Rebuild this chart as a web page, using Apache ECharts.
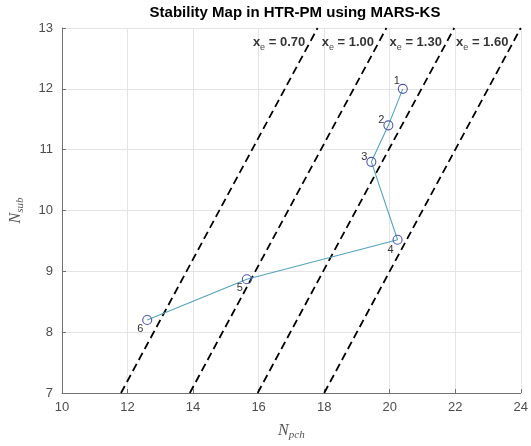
<!DOCTYPE html>
<html>
<head>
<meta charset="utf-8">
<script src="https://cdn.jsdelivr.net/npm/echarts@6/dist/echarts.min.js"></script>
<style>html,body{margin:0;padding:0;background:#fff}#c{width:531px;height:446px}</style>
</head>
<body>
<div id="c"></div>
<script>
// Operating points (N_pch, N_sub)
var pointIds = ['1', '2', '3', '4', '5', '6'];
var nPch = [20.4, 19.96, 19.44, 20.24, 15.64, 12.6];
var nSub = [12.0, 11.4, 10.8, 9.52, 8.87, 8.2];

// Constant equilibrium-quality lines
var xeValues = ['0.70', '1.00', '1.30', '1.60'];
var lineNsub = [7, 13];
var lineStartPch = [11.8, 13.9, 15.97, 18.0];    // N_pch at N_sub = 7
var lineEndPch = [17.8, 19.9, 21.97, 24.0];      // N_pch at N_sub = 13

var xTicks = [10, 12, 14, 16, 18, 20, 22, 24];
var yTicks = [7, 8, 9, 10, 11, 12, 13];

var labelY = 12.76;
// label offsets for the point numbers (style, not data)
var ptLabelOffsets = [[-6, -8], [-7, -5], [-7, -5], [-7, 10], [-7, 9], [-7, 9]];

var chart = echarts.init(document.getElementById('c'), null, {renderer: 'canvas'});

var series = [];
for (var i = 0; i < xeValues.length; i++) {
  series.push({
    type: 'line',
    data: [[lineStartPch[i], lineNsub[0]], [lineEndPch[i], lineNsub[1]]],
    symbol: 'none',
    silent: true,
    z: 2,
    lineStyle: {color: '#000', width: 1.8, type: [8, 4.5]}
  });
}
// labels for xe lines
var xeLabelData = [];
for (var j = 0; j < xeValues.length; j++) {
  var slope = (lineEndPch[j] - lineStartPch[j]) / (lineNsub[1] - lineNsub[0]);
  var xAt = lineEndPch[j] - slope * (lineNsub[1] - labelY);
  xeLabelData.push({value: [xAt, labelY], name: xeValues[j]});
}
series.push({
  type: 'scatter',
  data: xeLabelData,
  symbolSize: 1,
  itemStyle: {color: 'rgba(0,0,0,0)'},
  silent: true,
  z: 5,
  label: {
    show: true,
    position: 'left',
    distance: 4,
    formatter: function (p) { return '{x|x}{e|e}{t| = ' + p.name + '}'; },
    rich: {
      x: {fontFamily: 'Liberation Sans, Arial', fontWeight: 'bold', fontSize: 13, color: '#000', lineHeight: 18, verticalAlign: 'middle'},
      e: {fontFamily: 'Liberation Sans, Arial', fontSize: 9, color: '#111', lineHeight: 9, verticalAlign: 'bottom'},
      t: {fontFamily: 'Liberation Sans, Arial', fontWeight: 'bold', fontSize: 13, color: '#000', lineHeight: 18, verticalAlign: 'middle'}
    }
  }
});
// operating path
var pathData = [];
for (var k = 0; k < nPch.length; k++) {
  pathData.push({
    value: [nPch[k], nSub[k]],
    name: pointIds[k],
    label: {offset: ptLabelOffsets[k]}
  });
}
series.push({
  type: 'line',
  data: pathData,
  symbol: 'circle',
  symbolSize: 9,
  z: 4,
  lineStyle: {color: '#55a3bd', width: 1.1},
  itemStyle: {color: 'rgba(255,255,255,0)', borderColor: '#5155aa', borderWidth: 1.1},
  label: {
    show: true,
    position: 'inside',
    formatter: function (p) { return p.name; },
    fontFamily: 'Liberation Sans, Arial',
    fontSize: 11,
    color: '#333'
  }
});

chart.setOption({
  animation: false,
  backgroundColor: '#fff',
  title: {
    text: 'Stability Map in HTR-PM using MARS-KS',
    left: 290,
    textAlign: 'center',
    top: 0,
    textStyle: {fontFamily: 'Liberation Sans, Arial', fontWeight: 'bold', fontSize: 15, color: '#000'}
  },
  grid: {left: 56, right: 8, top: 28, bottom: 49, containLabel: false},
  xAxis: {
    type: 'value',
    min: xTicks[0], max: xTicks[xTicks.length - 1], interval: 2,
    name: '{n|N}{s|pch}',
    nameLocation: 'middle',
    nameGap: 28,
    nameTextStyle: {
      rich: {
        n: {fontFamily: 'Liberation Serif', fontStyle: 'italic', fontSize: 16, color: '#555', lineHeight: 20, verticalAlign: 'middle'},
        s: {fontFamily: 'Liberation Serif', fontStyle: 'italic', fontSize: 11, color: '#555', lineHeight: 11, verticalAlign: 'bottom'}
      }
    },
    axisLine: {show: true, onZero: false, lineStyle: {color: '#707070', width: 1}},
    axisTick: {show: true, inside: true, length: 4, lineStyle: {color: '#707070'}},
    axisLabel: {fontFamily: 'Liberation Sans, Arial', fontSize: 13, color: '#4d4d4d', margin: 8},
    splitLine: {show: true, lineStyle: {color: '#e4e4e4', width: 1}}
  },
  yAxis: {
    type: 'value',
    min: yTicks[0], max: yTicks[yTicks.length - 1], interval: 1,
    name: '{n|N}{s|sub}',
    nameLocation: 'middle',
    nameGap: 36,
    nameTextStyle: {
      rich: {
        n: {fontFamily: 'Liberation Serif', fontStyle: 'italic', fontSize: 16, color: '#555', lineHeight: 20, verticalAlign: 'middle'},
        s: {fontFamily: 'Liberation Serif', fontStyle: 'italic', fontSize: 11, color: '#555', lineHeight: 11, verticalAlign: 'bottom'}
      }
    },
    axisLine: {show: true, onZero: false, lineStyle: {color: '#707070', width: 1}},
    axisTick: {show: true, inside: true, length: 4, lineStyle: {color: '#707070'}},
    axisLabel: {fontFamily: 'Liberation Sans, Arial', fontSize: 13, color: '#4d4d4d', margin: 9},
    splitLine: {show: true, lineStyle: {color: '#e4e4e4', width: 1}}
  },
  series: series
});
</script>
</body>
</html>
